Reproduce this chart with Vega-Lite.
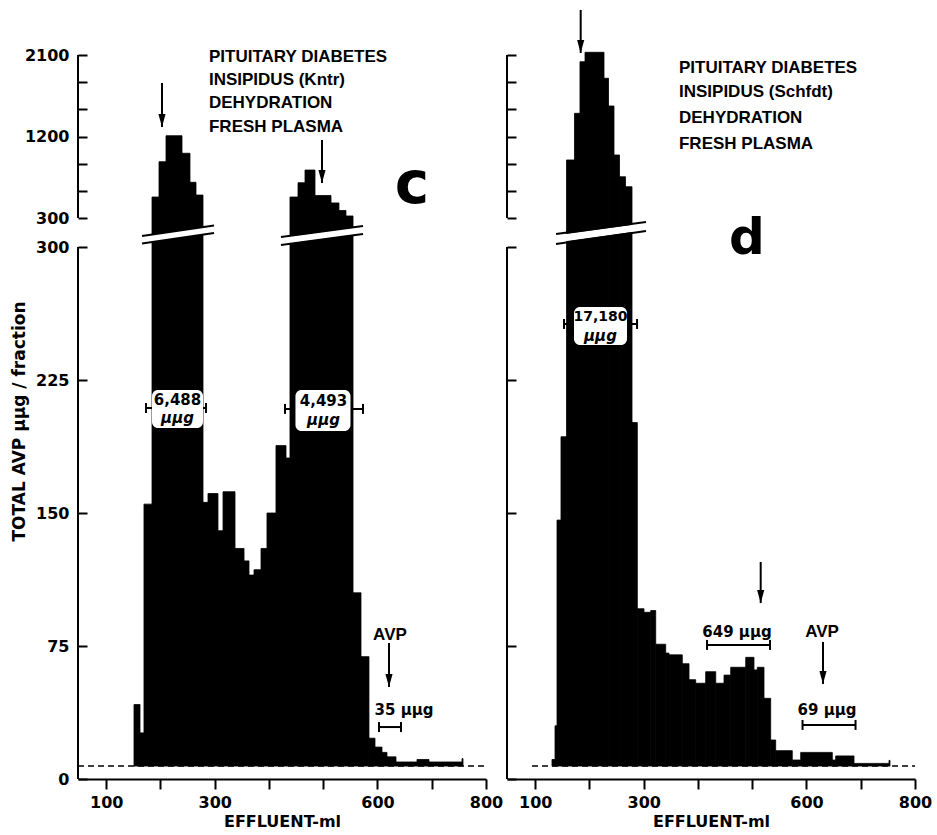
{
  "$schema": "https://vega.github.io/schema/vega-lite/v6.json",
  "background": "white",
  "padding": {"left": 10, "top": 0, "right": 0, "bottom": 0},
  "spacing": 21,
  "bounds": "flush",
  "config": {
    "view": {"stroke": null},
    "axis": {"grid": false, "domainColor": "black", "tickColor": "black", "labelColor": "black", "titleColor": "black"}
  },
  "datasets": {
    "bars": [
      {"panel": "c", "x0": 151.2, "x1": 162.3, "v": 42},
      {"panel": "c", "x0": 162.3, "x1": 169.6, "v": 26},
      {"panel": "c", "x0": 169.6, "x1": 184.4, "v": 155},
      {"panel": "c", "x0": 184.4, "x1": 197.3, "v": 532},
      {"panel": "c", "x0": 197.3, "x1": 210.2, "v": 922},
      {"panel": "c", "x0": 210.2, "x1": 239.7, "v": 1209},
      {"panel": "c", "x0": 239.7, "x1": 254.4, "v": 1015},
      {"panel": "c", "x0": 254.4, "x1": 265.5, "v": 695},
      {"panel": "c", "x0": 265.5, "x1": 278.4, "v": 554},
      {"panel": "c", "x0": 278.4, "x1": 287.6, "v": 156},
      {"panel": "c", "x0": 287.6, "x1": 306.0, "v": 161},
      {"panel": "c", "x0": 306.0, "x1": 315.3, "v": 140},
      {"panel": "c", "x0": 315.3, "x1": 337.4, "v": 162},
      {"panel": "c", "x0": 337.4, "x1": 354.0, "v": 130},
      {"panel": "c", "x0": 354.0, "x1": 363.2, "v": 123},
      {"panel": "c", "x0": 363.2, "x1": 372.4, "v": 115},
      {"panel": "c", "x0": 372.4, "x1": 385.3, "v": 118},
      {"panel": "c", "x0": 385.3, "x1": 396.3, "v": 130},
      {"panel": "c", "x0": 396.3, "x1": 412.9, "v": 150},
      {"panel": "c", "x0": 412.9, "x1": 431.4, "v": 188},
      {"panel": "c", "x0": 431.4, "x1": 438.7, "v": 181},
      {"panel": "c", "x0": 438.7, "x1": 453.5, "v": 532},
      {"panel": "c", "x0": 453.5, "x1": 466.4, "v": 690},
      {"panel": "c", "x0": 466.4, "x1": 484.8, "v": 830},
      {"panel": "c", "x0": 484.8, "x1": 514.3, "v": 549},
      {"panel": "c", "x0": 514.3, "x1": 529.0, "v": 467},
      {"panel": "c", "x0": 529.0, "x1": 541.9, "v": 383},
      {"panel": "c", "x0": 541.9, "x1": 554.9, "v": 323},
      {"panel": "c", "x0": 554.9, "x1": 569.6, "v": 105},
      {"panel": "c", "x0": 569.6, "x1": 584.3, "v": 69},
      {"panel": "c", "x0": 584.3, "x1": 595.4, "v": 23},
      {"panel": "c", "x0": 595.4, "x1": 608.3, "v": 18},
      {"panel": "c", "x0": 608.3, "x1": 617.5, "v": 15},
      {"panel": "c", "x0": 617.5, "x1": 634.1, "v": 12.5},
      {"panel": "c", "x0": 634.1, "x1": 672.8, "v": 9.6},
      {"panel": "c", "x0": 672.8, "x1": 694.9, "v": 11},
      {"panel": "c", "x0": 694.9, "x1": 755.8, "v": 9.6},
      {"panel": "c", "x0": 755.8, "x1": 757.6, "v": 11.5},
      {"panel": "d", "x0": 130.9, "x1": 136.5, "v": 11},
      {"panel": "d", "x0": 136.5, "x1": 140.2, "v": 30},
      {"panel": "d", "x0": 140.2, "x1": 147.5, "v": 146},
      {"panel": "d", "x0": 147.5, "x1": 157.7, "v": 193},
      {"panel": "d", "x0": 157.7, "x1": 172.4, "v": 941},
      {"panel": "d", "x0": 172.4, "x1": 182.5, "v": 1456},
      {"panel": "d", "x0": 182.5, "x1": 191.8, "v": 2026},
      {"panel": "d", "x0": 191.8, "x1": 226.8, "v": 2130},
      {"panel": "d", "x0": 226.8, "x1": 235.1, "v": 1843},
      {"panel": "d", "x0": 235.1, "x1": 245.2, "v": 1537},
      {"panel": "d", "x0": 245.2, "x1": 255.4, "v": 996},
      {"panel": "d", "x0": 255.4, "x1": 266.4, "v": 756},
      {"panel": "d", "x0": 266.4, "x1": 278.4, "v": 646},
      {"panel": "d", "x0": 278.4, "x1": 288.2, "v": 201},
      {"panel": "d", "x0": 288.2, "x1": 300.5, "v": 96},
      {"panel": "d", "x0": 300.5, "x1": 312.9, "v": 94},
      {"panel": "d", "x0": 312.9, "x1": 322.1, "v": 95},
      {"panel": "d", "x0": 322.1, "x1": 340.5, "v": 76},
      {"panel": "d", "x0": 340.5, "x1": 346.6, "v": 71},
      {"panel": "d", "x0": 346.6, "x1": 371.1, "v": 70},
      {"panel": "d", "x0": 371.1, "x1": 383.5, "v": 65},
      {"panel": "d", "x0": 383.5, "x1": 395.8, "v": 56},
      {"panel": "d", "x0": 395.8, "x1": 414.2, "v": 54},
      {"panel": "d", "x0": 414.2, "x1": 432.7, "v": 60.5},
      {"panel": "d", "x0": 432.7, "x1": 448.0, "v": 54},
      {"panel": "d", "x0": 448.0, "x1": 460.3, "v": 58.6},
      {"panel": "d", "x0": 460.3, "x1": 488.0, "v": 63},
      {"panel": "d", "x0": 488.0, "x1": 503.2, "v": 68.6},
      {"panel": "d", "x0": 503.2, "x1": 509.3, "v": 61.5},
      {"panel": "d", "x0": 509.3, "x1": 521.7, "v": 63},
      {"panel": "d", "x0": 521.7, "x1": 534.0, "v": 45.5},
      {"panel": "d", "x0": 534.0, "x1": 543.2, "v": 22},
      {"panel": "d", "x0": 543.2, "x1": 573.8, "v": 16},
      {"panel": "d", "x0": 573.8, "x1": 589.3, "v": 10.7},
      {"panel": "d", "x0": 589.3, "x1": 647.6, "v": 15},
      {"panel": "d", "x0": 647.6, "x1": 653.8, "v": 10.7},
      {"panel": "d", "x0": 653.8, "x1": 687.6, "v": 13},
      {"panel": "d", "x0": 687.6, "x1": 752.1, "v": 8.8},
      {"panel": "d", "x0": 752.1, "x1": 753.9, "v": 10.5}
    ],
    "baseline": [
      {"panel": "c", "x0": 48, "x1": 800, "v": 7.3},
      {"panel": "d", "x0": 94.1, "x1": 800, "v": 7.3}
    ],
    "axisLines": [
      {"panel": "c", "x": 48, "y0": 0, "y1": 300},
      {"panel": "c", "x": 48, "y0": 300.5, "y1": 2100},
      {"panel": "d", "x": 48, "y0": 0, "y1": 300},
      {"panel": "d", "x": 48, "y0": 300.5, "y1": 2100}
    ],
    "breaks": [
      {"panel": "c", "kind": "gap", "x0": 166.0, "x1": 298.7, "y0": 300.125, "y1": 300.306},
      {"panel": "c", "kind": "edge", "x0": 166.0, "x1": 298.7, "y0": 300.190, "y1": 300.371},
      {"panel": "c", "kind": "edge", "x0": 166.0, "x1": 298.7, "y0": 300.060, "y1": 300.241},
      {"panel": "c", "kind": "gap", "x0": 422.1, "x1": 573.3, "y0": 300.103, "y1": 300.293},
      {"panel": "c", "kind": "edge", "x0": 422.1, "x1": 573.3, "y0": 300.172, "y1": 300.362},
      {"panel": "c", "kind": "edge", "x0": 422.1, "x1": 573.3, "y0": 300.034, "y1": 300.224},
      {"panel": "d", "kind": "gap", "x0": 138.3, "x1": 304.2, "y0": 300.138, "y1": 300.353},
      {"panel": "d", "kind": "edge", "x0": 138.3, "x1": 304.2, "y0": 300.224, "y1": 300.431},
      {"panel": "d", "kind": "edge", "x0": 138.3, "x1": 304.2, "y0": 300.052, "y1": 300.276}
    ],
    "arrows": [
      {"panel": "c", "x": 202.8, "ytop": 1791, "ytip": 1305},
      {"panel": "c", "x": 497.7, "ytop": 1162, "ytip": 687},
      {"panel": "c", "x": 621.2, "ytop": 76.7, "ytip": 51.9},
      {"panel": "d", "x": 183.8, "ytop": 2597, "ytip": 2122},
      {"panel": "d", "x": 515.6, "ytop": 122.4, "ytip": 99.2},
      {"panel": "d", "x": 630.4, "ytop": 77.3, "ytip": 53.6}
    ],
    "brackets": [
      {"panel": "c", "x0": 173.3, "x1": 283.9, "v": 209.2},
      {"panel": "c", "x0": 429.5, "x1": 573.3, "v": 208.7},
      {"panel": "c", "x0": 602.8, "x1": 643.3, "v": 29.3},
      {"panel": "d", "x0": 153.1, "x1": 287.7, "v": 256.6},
      {"panel": "d", "x0": 416.7, "x1": 532.8, "v": 75.6},
      {"panel": "d", "x0": 592.7, "x1": 690.4, "v": 30.5}
    ],
    "boxes": [
      {"panel": "c", "x0": 184.4, "x1": 278.4, "y0": 197.9, "y1": 219.4},
      {"panel": "c", "x0": 448.8, "x1": 550.2, "y0": 196.2, "y1": 219.4},
      {"panel": "d", "x0": 171.5, "x1": 269.2, "y0": 244.7, "y1": 266.2}
    ],
    "labels": [
      {"panel": "c", "kind": "title", "x": 289.4, "y": 2078, "text": "PITUITARY DIABETES"},
      {"panel": "c", "kind": "title", "x": 289.4, "y": 1824, "text": "INSIPIDUS (Kntr)"},
      {"panel": "c", "kind": "title", "x": 289.4, "y": 1570, "text": "DEHYDRATION"},
      {"panel": "c", "kind": "title", "x": 289.4, "y": 1305, "text": "FRESH PLASMA"},
      {"panel": "c", "kind": "letter", "x": 663.6, "y": 466, "text": "c"},
      {"panel": "c", "kind": "num", "x": 231.4, "y": 213.7, "text": "6,488"},
      {"panel": "c", "kind": "unit", "x": 231.4, "y": 203.6, "text": "μμg"},
      {"panel": "c", "kind": "num", "x": 500.5, "y": 213.2, "text": "4,493"},
      {"panel": "c", "kind": "unit", "x": 500.5, "y": 202.4, "text": "μμg"},
      {"panel": "c", "kind": "avp", "x": 623, "y": 81.2, "text": "AVP"},
      {"panel": "c", "kind": "amt", "x": 648.9, "y": 38.9, "text": "35 μμg"},
      {"panel": "d", "kind": "title", "x": 365, "y": 1956.5, "text": "PITUITARY DIABETES"},
      {"panel": "d", "kind": "title", "x": 365, "y": 1691.5, "text": "INSIPIDUS (Schfdt)"},
      {"panel": "d", "kind": "title", "x": 365, "y": 1404.5, "text": "DEHYDRATION"},
      {"panel": "d", "kind": "title", "x": 365, "y": 1117.5, "text": "FRESH PLASMA"},
      {"panel": "d", "kind": "letter", "x": 490, "y": 296, "text": "d"},
      {"panel": "d", "kind": "num", "x": 220.3, "y": 260.5, "text": "17,180"},
      {"panel": "d", "kind": "unit", "x": 220.3, "y": 249.8, "text": "μμg"},
      {"panel": "d", "kind": "amt", "x": 471.9, "y": 82.9, "text": "649 μμg"},
      {"panel": "d", "kind": "avp", "x": 628.6, "y": 82.9, "text": "AVP"},
      {"panel": "d", "kind": "amt", "x": 637.8, "y": 38.9, "text": "69 μμg"}
    ]
  },
  "hconcat": [
    {
      "width": 408,
      "height": 779,
      "layer": [
        {
          "data": {"name": "baseline"},
          "transform": [{"filter": "datum.panel == 'c'"}],
          "mark": {"type": "rule", "strokeDash": [6, 4], "strokeWidth": 1.5, "color": "black"},
          "encoding": {
            "x": {"field": "x0", "type": "quantitative", "title": "EFFLUENT-ml",
              "scale": {"domain": [48, 800], "nice": false, "zero": false},
              "axis": {"values": [100, 200, 300, 400, 500, 600, 700, 800], "labelExpr": "indexof([100,300,600,800], datum.value) >= 0 ? datum.label : ''", "tickSize": 10, "tickWidth": 2, "domainWidth": 2, "labelFont": "DejaVu Sans", "labelFontWeight": "bold", "labelFontSize": 16, "labelPadding": 5, "labelFlush": false, "labelOverlap": false, "labelBound": false, "titleFont": "DejaVu Sans", "titleFontWeight": "bold", "titleFontSize": 16, "titlePadding": 3}},
            "x2": {"field": "x1"},
            "y": {"field": "v", "type": "quantitative", "title": "TOTAL AVP   μμg / fraction",
              "scale": {"domain": [0, 300, 300.5, 2100, 2707], "range": [779, 247, 218, 55, 0], "nice": false, "zero": false},
              "axis": {"values": [0, 75, 150, 225, 300, 300.5, 600, 900, 1200, 1500, 1800, 2100], "format": "d", "labelExpr": "datum.value == 300.5 ? '300' : (indexof([0,75,150,225,300,1200,2100], datum.value) >= 0 ? datum.label : '')", "domain": false, "tickSize": -9, "tickWidth": 2, "labelFont": "DejaVu Sans", "labelFontWeight": "bold", "labelFontSize": 16, "labelPadding": 18, "labelOverlap": false, "labelFlush": false, "titleFont": "DejaVu Sans", "titleFontWeight": "bold", "titleFontSize": 17, "titleX": -59, "titleY": 421, "titleAngle": -90, "titleAlign": "center", "titleBaseline": "middle"}}
          }
        },
        {
          "data": {"name": "bars"},
          "transform": [{"filter": "datum.panel == 'c'"}],
          "mark": {"type": "rect", "color": "black", "stroke": "black", "strokeWidth": 0.8},
          "encoding": {
            "x": {"field": "x0", "type": "quantitative"},
            "x2": {"field": "x1"},
            "y": {"field": "v", "type": "quantitative"},
            "y2": {"datum": 7.3}
          }
        },
        {
          "data": {"name": "axisLines"},
          "transform": [{"filter": "datum.panel == 'c'"}],
          "mark": {"type": "rule", "strokeWidth": 2, "color": "black"},
          "encoding": {
            "x": {"field": "x", "type": "quantitative"},
            "y": {"field": "y0", "type": "quantitative"},
            "y2": {"field": "y1"}
          }
        },
        {
          "data": {"name": "breaks"},
          "transform": [{"filter": "datum.panel == 'c' && datum.kind == 'gap'"}],
          "mark": {"type": "rule", "strokeWidth": 7, "color": "white"},
          "encoding": {
            "x": {"field": "x0", "type": "quantitative"},
            "x2": {"field": "x1"},
            "y": {"field": "y0", "type": "quantitative"},
            "y2": {"field": "y1"}
          }
        },
        {
          "data": {"name": "breaks"},
          "transform": [{"filter": "datum.panel == 'c' && datum.kind == 'edge'"}],
          "mark": {"type": "rule", "strokeWidth": 2.2, "color": "black"},
          "encoding": {
            "x": {"field": "x0", "type": "quantitative"},
            "x2": {"field": "x1"},
            "y": {"field": "y0", "type": "quantitative"},
            "y2": {"field": "y1"}
          }
        },
        {
          "data": {"name": "brackets"},
          "transform": [{"filter": "datum.panel == 'c'"}],
          "mark": {"type": "rule", "strokeWidth": 2, "color": "black"},
          "encoding": {
            "x": {"field": "x0", "type": "quantitative"},
            "x2": {"field": "x1"},
            "y": {"field": "v", "type": "quantitative"}
          }
        },
        {
          "data": {"name": "brackets"},
          "transform": [{"filter": "datum.panel == 'c'"}, {"fold": ["x0", "x1"], "as": ["end", "xe"]}],
          "mark": {"type": "tick", "orient": "vertical", "size": 10, "thickness": 2, "color": "black", "opacity": 1},
          "encoding": {
            "x": {"field": "xe", "type": "quantitative"},
            "y": {"field": "v", "type": "quantitative"}
          }
        },
        {
          "data": {"name": "boxes"},
          "transform": [{"filter": "datum.panel == 'c'"}],
          "mark": {"type": "rect", "color": "white", "cornerRadius": 6},
          "encoding": {
            "x": {"field": "x0", "type": "quantitative"},
            "x2": {"field": "x1"},
            "y": {"field": "y0", "type": "quantitative"},
            "y2": {"field": "y1"}
          }
        },
        {
          "data": {"name": "arrows"},
          "transform": [{"filter": "datum.panel == 'c'"}],
          "mark": {"type": "rule", "strokeWidth": 2, "color": "black"},
          "encoding": {
            "x": {"field": "x", "type": "quantitative"},
            "y": {"field": "ytop", "type": "quantitative"},
            "y2": {"field": "ytip"}
          }
        },
        {
          "data": {"name": "arrows"},
          "transform": [{"filter": "datum.panel == 'c'"}],
          "mark": {"type": "point", "shape": "M-0.55,-1L0.55,-1L0,1Z", "filled": true, "size": 169, "yOffset": -6.5, "color": "black", "opacity": 1},
          "encoding": {
            "x": {"field": "x", "type": "quantitative"},
            "y": {"field": "ytip", "type": "quantitative"}
          }
        },
        {
          "data": {"name": "labels"},
          "transform": [{"filter": "datum.panel == 'c' && datum.kind == 'title'"}],
          "mark": {"type": "text", "font": "Liberation Sans", "fontWeight": "bold", "fontSize": 17, "align": "left", "baseline": "middle", "color": "black"},
          "encoding": {
            "x": {"field": "x", "type": "quantitative"},
            "y": {"field": "y", "type": "quantitative"},
            "text": {"field": "text"}
          }
        },
        {
          "data": {"name": "labels"},
          "transform": [{"filter": "datum.panel == 'c' && datum.kind == 'letter'"}],
          "mark": {"type": "text", "font": "DejaVu Sans", "fontWeight": "bold", "fontSize": 58, "align": "center", "baseline": "alphabetic", "color": "black"},
          "encoding": {
            "x": {"field": "x", "type": "quantitative"},
            "y": {"field": "y", "type": "quantitative"},
            "text": {"field": "text"}
          }
        },
        {
          "data": {"name": "labels"},
          "transform": [{"filter": "datum.panel == 'c' && datum.kind == 'num'"}],
          "mark": {"type": "text", "font": "DejaVu Sans", "fontWeight": "bold", "fontSize": 15, "align": "center", "baseline": "middle", "color": "black"},
          "encoding": {
            "x": {"field": "x", "type": "quantitative"},
            "y": {"field": "y", "type": "quantitative"},
            "text": {"field": "text"}
          }
        },
        {
          "data": {"name": "labels"},
          "transform": [{"filter": "datum.panel == 'c' && datum.kind == 'unit'"}],
          "mark": {"type": "text", "font": "DejaVu Sans", "fontWeight": "bold", "fontStyle": "italic", "fontSize": 15, "align": "center", "baseline": "middle", "color": "black"},
          "encoding": {
            "x": {"field": "x", "type": "quantitative"},
            "y": {"field": "y", "type": "quantitative"},
            "text": {"field": "text"}
          }
        },
        {
          "data": {"name": "labels"},
          "transform": [{"filter": "datum.panel == 'c' && datum.kind == 'avp'"}],
          "mark": {"type": "text", "font": "Liberation Sans", "fontWeight": "bold", "fontSize": 17, "align": "center", "baseline": "middle", "color": "black"},
          "encoding": {
            "x": {"field": "x", "type": "quantitative"},
            "y": {"field": "y", "type": "quantitative"},
            "text": {"field": "text"}
          }
        },
        {
          "data": {"name": "labels"},
          "transform": [{"filter": "datum.panel == 'c' && datum.kind == 'amt'"}],
          "mark": {"type": "text", "font": "DejaVu Sans", "fontWeight": "bold", "fontSize": 15, "align": "center", "baseline": "middle", "color": "black"},
          "encoding": {
            "x": {"field": "x", "type": "quantitative"},
            "y": {"field": "y", "type": "quantitative"},
            "text": {"field": "text"}
          }
        }
      ]
    },
    {
      "width": 408,
      "height": 779,
      "layer": [
        {
          "data": {"name": "baseline"},
          "transform": [{"filter": "datum.panel == 'd'"}],
          "mark": {"type": "rule", "strokeDash": [6, 4], "strokeWidth": 1.5, "color": "black"},
          "encoding": {
            "x": {"field": "x0", "type": "quantitative", "title": "EFFLUENT-ml",
              "scale": {"domain": [48, 800], "nice": false, "zero": false},
              "axis": {"values": [100, 200, 300, 400, 500, 600, 700, 800], "labelExpr": "indexof([100,300,600,800], datum.value) >= 0 ? datum.label : ''", "tickSize": 10, "tickWidth": 2, "domainWidth": 2, "labelFont": "DejaVu Sans", "labelFontWeight": "bold", "labelFontSize": 16, "labelPadding": 5, "labelFlush": false, "labelOverlap": false, "labelBound": false, "titleFont": "DejaVu Sans", "titleFontWeight": "bold", "titleFontSize": 16, "titlePadding": 3}},
            "x2": {"field": "x1"},
            "y": {"field": "v", "type": "quantitative", "title": null,
              "scale": {"domain": [0, 300, 300.5, 2100, 2707], "range": [779, 247, 218, 55, 0], "nice": false, "zero": false},
              "axis": {"values": [0, 75, 150, 225, 300, 300.5, 600, 900, 1200, 1500, 1800, 2100], "labels": false, "domain": false, "tickSize": -9, "tickWidth": 2, "minExtent": 0}}
          }
        },
        {
          "data": {"name": "bars"},
          "transform": [{"filter": "datum.panel == 'd'"}],
          "mark": {"type": "rect", "color": "black", "stroke": "black", "strokeWidth": 0.8},
          "encoding": {
            "x": {"field": "x0", "type": "quantitative"},
            "x2": {"field": "x1"},
            "y": {"field": "v", "type": "quantitative"},
            "y2": {"datum": 7.3}
          }
        },
        {
          "data": {"name": "axisLines"},
          "transform": [{"filter": "datum.panel == 'd'"}],
          "mark": {"type": "rule", "strokeWidth": 2, "color": "black"},
          "encoding": {
            "x": {"field": "x", "type": "quantitative"},
            "y": {"field": "y0", "type": "quantitative"},
            "y2": {"field": "y1"}
          }
        },
        {
          "data": {"name": "breaks"},
          "transform": [{"filter": "datum.panel == 'd' && datum.kind == 'gap'"}],
          "mark": {"type": "rule", "strokeWidth": 7, "color": "white"},
          "encoding": {
            "x": {"field": "x0", "type": "quantitative"},
            "x2": {"field": "x1"},
            "y": {"field": "y0", "type": "quantitative"},
            "y2": {"field": "y1"}
          }
        },
        {
          "data": {"name": "breaks"},
          "transform": [{"filter": "datum.panel == 'd' && datum.kind == 'edge'"}],
          "mark": {"type": "rule", "strokeWidth": 2.2, "color": "black"},
          "encoding": {
            "x": {"field": "x0", "type": "quantitative"},
            "x2": {"field": "x1"},
            "y": {"field": "y0", "type": "quantitative"},
            "y2": {"field": "y1"}
          }
        },
        {
          "data": {"name": "brackets"},
          "transform": [{"filter": "datum.panel == 'd'"}],
          "mark": {"type": "rule", "strokeWidth": 2, "color": "black"},
          "encoding": {
            "x": {"field": "x0", "type": "quantitative"},
            "x2": {"field": "x1"},
            "y": {"field": "v", "type": "quantitative"}
          }
        },
        {
          "data": {"name": "brackets"},
          "transform": [{"filter": "datum.panel == 'd'"}, {"fold": ["x0", "x1"], "as": ["end", "xe"]}],
          "mark": {"type": "tick", "orient": "vertical", "size": 10, "thickness": 2, "color": "black", "opacity": 1},
          "encoding": {
            "x": {"field": "xe", "type": "quantitative"},
            "y": {"field": "v", "type": "quantitative"}
          }
        },
        {
          "data": {"name": "boxes"},
          "transform": [{"filter": "datum.panel == 'd'"}],
          "mark": {"type": "rect", "color": "white", "cornerRadius": 6},
          "encoding": {
            "x": {"field": "x0", "type": "quantitative"},
            "x2": {"field": "x1"},
            "y": {"field": "y0", "type": "quantitative"},
            "y2": {"field": "y1"}
          }
        },
        {
          "data": {"name": "arrows"},
          "transform": [{"filter": "datum.panel == 'd'"}],
          "mark": {"type": "rule", "strokeWidth": 2, "color": "black"},
          "encoding": {
            "x": {"field": "x", "type": "quantitative"},
            "y": {"field": "ytop", "type": "quantitative"},
            "y2": {"field": "ytip"}
          }
        },
        {
          "data": {"name": "arrows"},
          "transform": [{"filter": "datum.panel == 'd'"}],
          "mark": {"type": "point", "shape": "M-0.55,-1L0.55,-1L0,1Z", "filled": true, "size": 169, "yOffset": -6.5, "color": "black", "opacity": 1},
          "encoding": {
            "x": {"field": "x", "type": "quantitative"},
            "y": {"field": "ytip", "type": "quantitative"}
          }
        },
        {
          "data": {"name": "labels"},
          "transform": [{"filter": "datum.panel == 'd' && datum.kind == 'title'"}],
          "mark": {"type": "text", "font": "Liberation Sans", "fontWeight": "bold", "fontSize": 17, "align": "left", "baseline": "middle", "color": "black"},
          "encoding": {
            "x": {"field": "x", "type": "quantitative"},
            "y": {"field": "y", "type": "quantitative"},
            "text": {"field": "text"}
          }
        },
        {
          "data": {"name": "labels"},
          "transform": [{"filter": "datum.panel == 'd' && datum.kind == 'letter'"}],
          "mark": {"type": "text", "font": "DejaVu Sans", "fontWeight": "bold", "fontSize": 50, "align": "center", "baseline": "alphabetic", "color": "black"},
          "encoding": {
            "x": {"field": "x", "type": "quantitative"},
            "y": {"field": "y", "type": "quantitative"},
            "text": {"field": "text"}
          }
        },
        {
          "data": {"name": "labels"},
          "transform": [{"filter": "datum.panel == 'd' && datum.kind == 'num'"}],
          "mark": {"type": "text", "font": "DejaVu Sans", "fontWeight": "bold", "fontSize": 14, "align": "center", "baseline": "middle", "color": "black"},
          "encoding": {
            "x": {"field": "x", "type": "quantitative"},
            "y": {"field": "y", "type": "quantitative"},
            "text": {"field": "text"}
          }
        },
        {
          "data": {"name": "labels"},
          "transform": [{"filter": "datum.panel == 'd' && datum.kind == 'unit'"}],
          "mark": {"type": "text", "font": "DejaVu Sans", "fontWeight": "bold", "fontStyle": "italic", "fontSize": 15, "align": "center", "baseline": "middle", "color": "black"},
          "encoding": {
            "x": {"field": "x", "type": "quantitative"},
            "y": {"field": "y", "type": "quantitative"},
            "text": {"field": "text"}
          }
        },
        {
          "data": {"name": "labels"},
          "transform": [{"filter": "datum.panel == 'd' && datum.kind == 'avp'"}],
          "mark": {"type": "text", "font": "Liberation Sans", "fontWeight": "bold", "fontSize": 17, "align": "center", "baseline": "middle", "color": "black"},
          "encoding": {
            "x": {"field": "x", "type": "quantitative"},
            "y": {"field": "y", "type": "quantitative"},
            "text": {"field": "text"}
          }
        },
        {
          "data": {"name": "labels"},
          "transform": [{"filter": "datum.panel == 'd' && datum.kind == 'amt'"}],
          "mark": {"type": "text", "font": "DejaVu Sans", "fontWeight": "bold", "fontSize": 15, "align": "center", "baseline": "middle", "color": "black"},
          "encoding": {
            "x": {"field": "x", "type": "quantitative"},
            "y": {"field": "y", "type": "quantitative"},
            "text": {"field": "text"}
          }
        }
      ]
    }
  ]
}
